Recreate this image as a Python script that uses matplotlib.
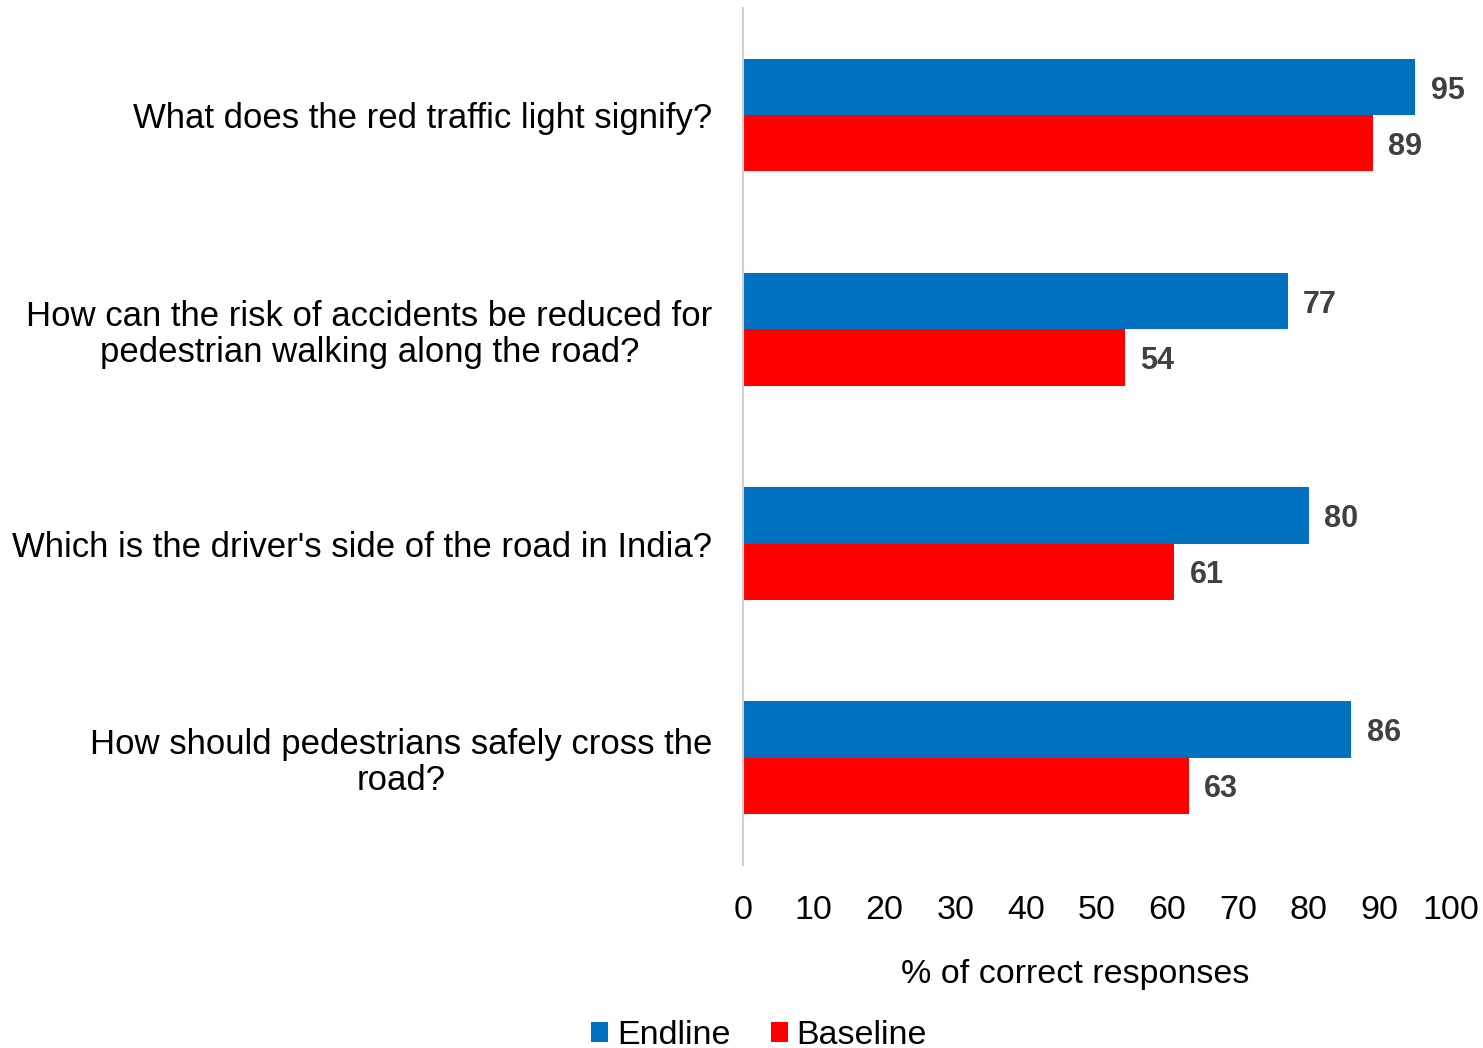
import matplotlib.pyplot as plt
import numpy as np

plt.rcParams['font.family'] = ['Liberation Sans', 'DejaVu Sans']

# Datos
questions = [
    "What does the red traffic light signify?",
    "How can the risk of accidents be reduced for\npedestrian walking along the road?",
    "Which is the driver's side of the road in India?",
    "How should pedestrians safely cross the\nroad?",
]
endline = [95, 77, 80, 86]
baseline = [89, 54, 61, 63]
xticks = [0, 10, 20, 30, 40, 50, 60, 70, 80, 90, 100]

blue = '#0070C0'
red = '#FF0000'

fig = plt.figure(figsize=(14.83, 10.48), dpi=100)
ax = fig.add_axes([0.501, 0.175, 0.477, 0.817])

y = np.arange(len(questions))
h = 0.262

bars_e = ax.barh(y - h / 2, endline, height=h, color=blue, label='Endline')
bars_b = ax.barh(y + h / 2, baseline, height=h, color=red, label='Baseline')

for bars in (bars_e, bars_b):
    for b in bars:
        ax.text(b.get_width() + 2.2, b.get_y() + b.get_height() / 2 + 0.015,
                f'{b.get_width():g}', va='center', ha='left',
                fontsize=22, fontweight='bold', color='#404040')

ax.set_ylim(len(questions) - 0.5, -0.5)
ax.set_xlim(0, 100)
ax.set_yticks(y)
ax.set_yticklabels(questions, fontsize=25, multialignment='center',
                   linespacing=1.1)
ax.set_xticks(xticks)
ax.tick_params(axis='x', labelsize=24.5, length=0, pad=22)
ax.tick_params(axis='y', length=0, pad=22)

for s in ['top', 'right', 'bottom']:
    ax.spines[s].set_visible(False)
ax.spines['left'].set_color('#D0D0D0')
ax.spines['left'].set_linewidth(1.5)

ax.set_xlabel('% of correct responses', fontsize=24.5, labelpad=24, x=0.47)

fig.legend(handles=[bars_e, bars_b], labels=['Endline', 'Baseline'],
           loc='center', bbox_to_anchor=(0.512, 0.012), ncol=2,
           frameon=False, fontsize=24.5, handlelength=0.5, handleheight=0.5,
           handletextpad=0.25, columnspacing=1.2)

fig.savefig('out.png', dpi=100)
